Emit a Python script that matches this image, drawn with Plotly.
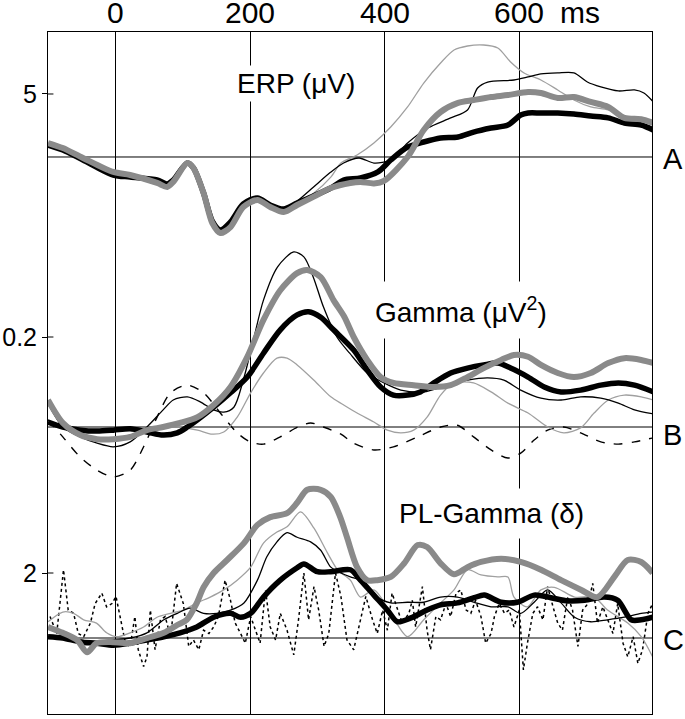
import plotly.graph_objects as go

# ---- ERP (uV) ----
erp_gray_t = [-100, -78, -48, -3, 22, 62, 77, 86, 107, 116, 131, 144, 156, 171, 190, 211, 230, 250, 270, 294,
              320, 349, 364, 384, 399, 434, 458, 483, 509, 532, 558, 583, 613, 632, 657, 681, 706, 732, 756, 781, 799]
erp_gray_v = [1.11, 0.71, -0.08, -1.19, -1.43, -2.06, -2.38, -1.98, -0.48, -0.87, -2.86, -5.24, -6.03, -5.56, -3.97,
              -3.41, -3.97, -4.37, -3.81, -3.17, -2.46, -2.06, -1.98, -2.1, -1.9, 0, 2.14, 3.57, 4.29, 4.52,
              4.76, 4.92, 5.16, 5.08, 4.68, 4.76, 4.37, 3.97, 3.10, 3.0, 2.70]

erp_black_t = [-100, -78, -48, -3, 22, 62, 77, 86, 107, 116, 131, 144, 156, 171, 190, 211, 230, 250, 270, 294,
               320, 339, 364, 390, 409, 434, 458, 483, 509, 532, 558, 583, 602, 613, 632, 657, 681, 706, 732, 756,
               781, 799]
erp_black_v = [0.95, 0.56, -0.24, -1.43, -1.59, -1.83, -2.14, -1.83, -0.48, -0.87, -2.86, -5.08, -5.79, -5.16, -3.73,
               -3.25, -3.81, -4.13, -3.65, -3.10, -2.46, -1.83, -1.67, -1.19, -0.24, 0.79, 1.19, 1.51, 1.59, 1.98,
               2.30, 2.54, 3.33, 3.49, 3.49, 3.49, 3.41, 3.25, 3.10, 2.70, 2.54, 2.14]

erp_thin_black_t = [-100, -78, -48, -3, 22, 62, 77, 86, 107, 116, 131, 144, 156, 171, 190, 211, 230, 250, 270, 294,
                    320, 339, 362, 384, 409, 434, 464, 498, 523, 538, 553, 592, 613, 632, 657, 681, 701, 721, 747, 771,
                    785, 799]
erp_thin_black_v = [1.0, 0.6, -0.15, -1.3, -1.5, -1.95, -2.25, -1.9, -0.45, -0.85, -2.85, -5.1, -5.85, -5.3, -3.85,
                    -3.3, -3.85, -4.2, -3.5, -2.4, -1.2, -0.48, -0.08, -0.48, -0.24, 1.11, 2.30, 3.10, 3.73, 5.48,
                    5.95, 6.11, 6.35, 6.59, 6.67, 6.67, 5.95, 5.56, 5.24, 5.32, 5.08, 4.37]

erp_thin_gray_t = [-100, -78, -48, -3, 22, 62, 77, 86, 107, 116, 131, 144, 156, 171, 190, 211, 230, 250, 265, 294,
                   320, 335, 359, 384, 409, 434, 458, 483, 503, 523, 547, 568, 587, 607, 632, 657, 681, 706, 732, 756,
                   781, 799]
erp_thin_gray_v = [1.05, 0.65, -0.1, -1.25, -1.45, -2.0, -2.3, -1.95, -0.5, -0.9, -2.85, -5.15, -5.9, -5.4, -3.9,
                   -3.35, -3.9, -4.3, -3.9, -2.9, -1.6, -0.48, 0.16, 1.11, 2.38, 3.97, 5.87, 7.46, 8.49, 8.81,
                   8.89, 8.65, 7.54, 6.67, 6.11, 5.32, 4.52, 3.97, 3.73, 3.17, 2.94, 2.70]

# ---- Gamma (uV^2) ----
gam_gray_t = [-100, -78, -52, -27, -3, 22, 47, 71, 96, 122, 146, 171, 196, 220, 245, 270, 285, 305, 324, 340,
              354, 374, 394, 413, 443, 473, 498, 523, 547, 573, 592, 613, 632, 657, 681, 706, 732, 756, 781, 799]
gam_gray_v = [0.060, 0.009, -0.018, -0.027, -0.027, -0.022, -0.007, 0, 0.009, 0.022, 0.049, 0.089, 0.156, 0.238,
              0.304, 0.342, 0.349, 0.333, 0.282, 0.245, 0.200, 0.149, 0.111, 0.098, 0.093, 0.089, 0.093, 0.111,
              0.131, 0.149, 0.160, 0.156, 0.138, 0.120, 0.111, 0.120, 0.142, 0.153, 0.149, 0.142]

gam_black_t = [-100, -78, -52, -27, -3, 22, 47, 71, 92, 107, 122, 146, 171, 196, 220, 245, 270, 287, 305, 324,
               354, 374, 394, 413, 434, 453, 473, 498, 523, 547, 568, 587, 613, 637, 662, 691, 721, 747, 771, 799]
gam_black_v = [0.011, 0, -0.007, -0.009, -0.007, -0.004, -0.011, -0.018, -0.013, 0, 0.016, 0.044, 0.076, 0.111,
               0.164, 0.216, 0.249, 0.256, 0.244, 0.216, 0.171, 0.127, 0.089, 0.071, 0.071, 0.078, 0.098, 0.120,
               0.131, 0.138, 0.142, 0.131, 0.111, 0.089, 0.078, 0.082, 0.093, 0.098, 0.093, 0.078]

gam_thin_black_t = [-100, -78, -52, -27, -3, 22, 47, 71, 86, 107, 126, 146, 161, 176, 190, 205, 220, 241, 265, 280,
                    294, 309, 329, 348, 374, 399, 424, 458, 493, 523, 553, 577, 602, 632, 662, 691, 721, 747, 771, 799]
gam_thin_black_v = [0.053, 0, -0.022, -0.036, -0.044, -0.033, 0, 0.038, 0.060, 0.067, 0.056, 0.038, 0.033, 0.044,
                    0.104, 0.193, 0.282, 0.356, 0.389, 0.378, 0.333, 0.267, 0.200, 0.164, 0.120, 0.098, 0.082,
                    0.078, 0.093, 0.104, 0.109, 0.104, 0.082, 0.064, 0.060, 0.067, 0.064, 0.053, 0.038, 0.029]

gam_thin_gray_t = [-100, -78, -52, -27, -3, 22, 47, 71, 96, 122, 144, 161, 181, 201, 220, 240, 255, 270, 295, 320,
                   338, 359, 384, 404, 424, 443, 463, 483, 503, 532, 558, 583, 613, 642, 666, 691, 711, 732, 756, 781,
                   799]
gam_thin_gray_v = [0.05, 0.004, -0.013, -0.024, -0.027, -0.022, -0.011, -0.002, 0, -0.007, -0.016, -0.011, 0.022,
                   0.076, 0.120, 0.153, 0.153, 0.138, 0.104, 0.067, 0.050, 0.031, 0.011, -0.007, -0.013, -0.007,
                   0.022, 0.071, 0.098, 0.098, 0.078, 0.053, 0.031, 0, -0.013, -0.002, 0.031, 0.060, 0.071, 0.067,
                   0.060]

gam_dash_t = [-100, -78, -52, -27, -3, 22, 42, 62, 82, 107, 131, 156, 181, 200, 220, 245, 271, 290, 309, 335,
              354, 384, 413, 449, 483, 508, 532, 558, 583, 602, 622, 642, 666, 691, 721, 747, 771, 799]
gam_dash_v = [0.016, -0.022, -0.067, -0.096, -0.111, -0.096, -0.044, 0.022, 0.076, 0.093, 0.076, 0.031, -0.013,
              -0.033, -0.038, -0.022, 0, 0.009, 0, -0.016, -0.036, -0.051, -0.044, -0.022, 0, 0.004, -0.022,
              -0.051, -0.069, -0.058, -0.029, -0.007, 0, -0.013, -0.033, -0.038, -0.033, -0.024]

# ---- PL-Gamma (delta) ----
pl_gray_t = [-100, -78, -57, -42, -28, -8, 22, 47, 72, 92, 106, 121, 131, 146, 166, 191, 211, 230, 255, 270,
             285, 305, 320, 334, 344, 359, 374, 389, 409, 429, 449, 463, 483, 503, 523, 543, 573, 602, 632, 662,
             692, 716, 741, 761, 781, 798]
pl_gray_v = [1.17, 1.08, 0.97, 0.78, 0.92, 0.94, 0.92, 1.0, 1.08, 1.20, 1.28, 1.54, 1.78, 2.0, 2.20, 2.46, 2.74,
             2.86, 2.92, 3.08, 3.28, 3.28, 3.17, 2.86, 2.55, 2.09, 1.89, 1.89, 1.94, 2.15, 2.43, 2.40, 2.15, 1.98,
             2.09, 2.17, 2.22, 2.17, 2.05, 1.89, 1.74, 1.63, 1.94, 2.20, 2.17, 2.0]

pl_black_t = [-100, -78, -52, -28, -3, 22, 47, 72, 96, 121, 146, 171, 186, 201, 220, 245, 270, 280, 300, 320,
              349, 364, 384, 404, 419, 439, 463, 483, 508, 533, 548, 573, 597, 622, 647, 672, 697, 726, 746, 766,
              781, 798]
pl_black_v = [1.02, 1.0, 0.94, 0.92, 0.89, 0.92, 0.97, 1.02, 1.08, 1.17, 1.32, 1.38, 1.32, 1.38, 1.63, 1.89, 2.08,
              2.14, 2.02, 2.02, 2.05, 1.89, 1.66, 1.43, 1.25, 1.31, 1.43, 1.51, 1.54, 1.62, 1.66, 1.55, 1.55, 1.66,
              1.62, 1.57, 1.58, 1.63, 1.58, 1.28, 1.28, 1.32]

pl_thin_black_t = [-100, -78, -52, -28, -3, 22, 47, 72, 92, 111, 131, 151, 171, 191, 211, 225, 240, 255, 270, 290,
                   305, 320, 335, 349, 364, 384, 409, 434, 458, 483, 508, 533, 558, 583, 602, 622, 642, 662, 682, 706,
                   731, 756, 781, 798]
pl_thin_black_v = [1.15, 1.05, 0.97, 0.94, 0.97, 1.0, 1.08, 1.28, 1.38, 1.46, 1.38, 1.38, 1.43, 1.54, 1.89, 2.25,
                   2.48, 2.62, 2.55, 2.48, 2.35, 2.09, 2.0, 1.94, 1.89, 1.66, 1.54, 1.55, 1.55, 1.63, 1.63, 1.55,
                   1.48, 1.48, 1.38, 1.55, 1.74, 1.54, 1.32, 1.25, 1.28, 1.32, 1.38, 1.40]

pl_thin_gray_t = [-100, -78, -62, -47, -28, -13, 2, 22, 42, 62, 82, 101, 121, 141, 161, 181, 201, 220, 240, 255,
                  275, 295, 315, 330, 349, 364, 384, 409, 434, 458, 483, 503, 523, 543, 568, 583, 592, 612, 632, 652,
                  682, 711, 731, 761, 781, 798]
pl_thin_gray_v = [1.25, 1.40, 1.38, 1.28, 1.23, 1.08, 1.02, 1.08, 1.17, 1.32, 1.38, 1.43, 1.54, 1.63, 1.74, 1.89,
                  2.09, 2.46, 2.63, 2.71, 2.94, 2.69, 2.31, 2.05, 1.89, 1.63, 1.74, 1.38, 1.02, 1.28, 1.54, 1.74,
                  2.05, 1.97, 1.94, 1.94, 1.63, 1.48, 1.74, 1.78, 1.63, 1.63, 1.43, 1.23, 1.02, 0.71]

pl_dot_t = [-97, -87, -77, -70, -62, -55, -47, -37, -30, -20, -13, -5, 1, 7, 15, 22, 29, 34, 42, 47,
            52, 59, 67, 74, 82, 91, 101, 109, 116, 124, 131, 139, 146, 153, 163, 171, 178, 186, 193, 201,
            208, 215, 223, 230, 238, 245, 255, 265, 272, 280, 287, 295, 302, 310, 317, 327, 335, 344, 354, 362,
            372, 382, 389, 397, 404, 411, 419, 426, 436, 441, 446, 456, 463, 468, 476, 483, 491, 498, 506, 513,
            521, 528, 535, 543, 550, 558, 563, 570, 578, 585, 592, 600, 606, 612, 620, 627, 635, 642, 650, 657,
            664, 672, 679, 687, 694, 702, 709, 716, 724, 731, 739, 746, 754, 761, 769, 776, 783, 791, 798]
pl_dot_v = [1.33, 1.07, 2.05, 1.43, 1.38, 1.07, 1.02, 1.23, 1.53, 1.69, 1.48, 1.53, 1.64, 1.33, 0.92, 0.87, 1.33,
            0.82, 0.56, 0.71, 1.43, 0.82, 1.28, 1.33, 1.02, 1.84, 1.53, 0.87, 0.97, 0.82, 1.12, 1.07, 1.17, 1.33,
            1.89, 1.58, 1.23, 1.07, 0.92, 1.33, 1.12, 0.92, 1.74, 1.17, 0.97, 1.38, 1.12, 0.74, 1.28, 2.0, 1.28,
            1.79, 1.43, 0.87, 1.07, 2.0, 1.64, 0.97, 0.82, 1.17, 1.64, 1.28, 1.07, 1.43, 1.12, 1.69, 1.43, 1.23,
            1.38, 1.58, 1.17, 1.79, 1.12, 0.82, 1.33, 1.28, 1.53, 1.33, 1.69, 1.74, 1.43, 1.38, 1.58, 1.33, 0.92,
            1.07, 1.33, 1.53, 1.38, 1.43, 1.17, 1.43, 0.51, 0.92, 1.38, 1.48, 1.28, 1.79, 1.48, 1.23, 1.12, 1.64,
            1.43, 0.87, 1.43, 1.53, 1.84, 1.23, 1.48, 1.28, 1.07, 1.53, 0.92, 0.71, 1.02, 0.61, 0.82, 1.38, 1.53]

x_ticks = [0, 200, 400, 600]
x_tick_text = ["0", "200", "400", "600"]

FONT = "Arial, Liberation Sans, sans-serif"
GRAY = "#8a8a8a"
LIGHT = "#a0a0a0"

fig = go.Figure()


def add(t, v, axis, color, width, dash="solid", shape="spline"):
    fig.add_trace(go.Scatter(x=t, y=v, yaxis=axis, mode="lines",
                             line=dict(color=color, width=width, dash=dash, shape=shape, smoothing=0.8),
                             showlegend=False, hoverinfo="skip"))


# panel A
add(erp_thin_gray_t, erp_thin_gray_v, "y", LIGHT, 1.3)
add(erp_thin_black_t, erp_thin_black_v, "y", "black", 1.3)
add(erp_black_t, erp_black_v, "y", "black", 5.5)
add(erp_gray_t, erp_gray_v, "y", GRAY, 6)
# panel B
add(gam_dash_t, gam_dash_v, "y2", "black", 1.4, dash="dash")
add(gam_thin_gray_t, gam_thin_gray_v, "y2", LIGHT, 1.3)
add(gam_thin_black_t, gam_thin_black_v, "y2", "black", 1.3)
add(gam_black_t, gam_black_v, "y2", "black", 5.5)
add(gam_gray_t, gam_gray_v, "y2", GRAY, 6)
# panel C
add(pl_dot_t, pl_dot_v, "y3", "black", 1.5, dash="dot", shape="linear")
add(pl_thin_gray_t, pl_thin_gray_v, "y3", LIGHT, 1.3)
add(pl_thin_black_t, pl_thin_black_v, "y3", "black", 1.3)
add(pl_black_t, pl_black_v, "y3", "black", 5.5)
add(pl_gray_t, pl_gray_v, "y3", GRAY, 6)

tick_style = dict(ticks="outside", ticklen=5, tickcolor="black", tickwidth=1, automargin=False,
                  showgrid=False, zeroline=False, tickfont=dict(size=25, color="black", family=FONT))

fig.update_layout(
    width=685, height=719,
    margin=dict(l=48, r=33, t=32, b=5),
    paper_bgcolor="white", plot_bgcolor="white",
    font=dict(family=FONT, color="black"),
    xaxis=dict(range=[-100, 797], side="top", tickvals=x_ticks, showticklabels=False,
               showgrid=True, gridcolor="black", gridwidth=1,
               zeroline=False, showline=True, mirror=True, linecolor="black", linewidth=1,
               ticks="", automargin=False),
    yaxis=dict(range=[-44.21, 9.92], tickvals=[5], showline=True, mirror=True,
               linecolor="black", linewidth=1, **tick_style),
    yaxis2=dict(range=[-0.6378, 0.8778], tickvals=[0.2], overlaying="y", anchor="x", side="left",
                showline=False, **tick_style),
    yaxis3=dict(range=[-0.169, 10.323], tickvals=[2], overlaying="y", anchor="x", side="left",
                showline=False, **tick_style),
)

for ref, y0 in (("y", 0), ("y2", 0), ("y3", 1)):
    fig.add_shape(type="line", xref="paper", x0=0, x1=1, yref=ref, y0=y0, y1=y0,
                  line=dict(color="black", width=1), layer="between")

# inner half of the crossing ticks on the left border
for ref, val in (("y", 5), ("y2", 0.2), ("y3", 2)):
    fig.add_shape(type="line", xref="paper", x0=0, x1=0.009, yref=ref, y0=val, y1=val,
                  line=dict(color="black", width=1))

# top time labels
for val, txt in zip(x_ticks, x_tick_text):
    fig.add_annotation(text=txt, xref="x", x=val, yref="paper", y=1, yanchor="bottom", yshift=1,
                       showarrow=False, font=dict(size=30, family=FONT, color="black"))
fig.add_annotation(text="ms", xref="x", x=600, xanchor="left", xshift=39,
                   yref="paper", y=1, yanchor="bottom", yshift=1, showarrow=False,
                   font=dict(size=30, family=FONT, color="black"))

labels = [("ERP (\u03bcV)", 269, 5.8, "y", 2),
          ("Gamma (\u03bcV<sup>2</sup>)", 513, 0.26, "y2", 10),
          ("PL-Gamma (\u03b4)", 559, 2.92, "y3", 9)]
for text, x, y, ref, pad in labels:
    fig.add_annotation(text=text, x=x, y=y, xref="x", yref=ref, showarrow=False,
                       font=dict(size=28, family=FONT, color="black"),
                       bgcolor="white", borderpad=pad)

for letter, ref, y0, ys in (("A", "y", 0, -2), ("B", "y2", 0, -8), ("C", "y3", 1, -2)):
    fig.add_annotation(text=letter, xref="paper", x=1, xanchor="left", xshift=9,
                       yref=ref, y=y0, yshift=ys, showarrow=False,
                       font=dict(size=29, family=FONT, color="black"))

fig.write_html("out.html", config={"displayModeBar": False},
               post_script="document.body.style.margin='0';")
